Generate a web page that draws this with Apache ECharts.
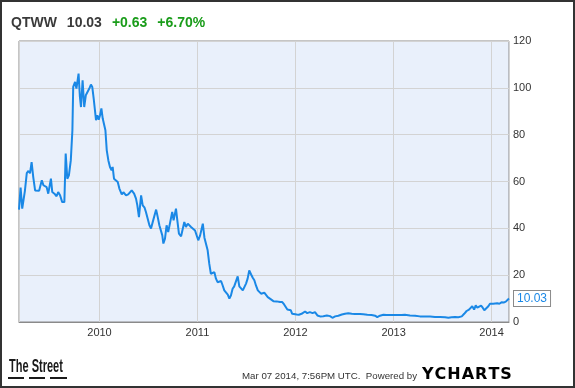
<!DOCTYPE html>
<html>
<head>
<meta charset="utf-8">
<script src="https://cdn.jsdelivr.net/npm/echarts@6/dist/echarts.min.js"></script>
<style>
html,body{margin:0;padding:0;background:#fff;}
#chart{width:575px;height:388px;}
</style>
</head>
<body>
<div id="chart"></div>
<script>
// Days since 2009-03-07 for each observation
const days = [0,6,12,22,29,35,41,47,53,60,66,75,85,91,97,103,109,119,124,132,140,146,153,161,169,174,180,186,193,199,
202,209,214,222,227,231,237,243,249,255,262,268,273,279,287,292,297,302,307,312,318,322,327,333,339,345,349,354,361,368,374,
383,389,399,407,420,429,436,441,447,455,461,468,473,480,486,492,500,511,517,523,529,534,538,544,550,556,563,571,576,585,590,596,604,610,616,622,629,635,641,647,
656,662,668,675,685,691,697,703,709,715,722,728,734,740,746,753,759,765,771,778,784,790,796,802,809,815,821,827,834,840,846,852,858,865,871,877,883,890,895,902,908,914,920,927,935,942,948,960,973,981,988,994,1000,1006,1013,1018,
1025,1035,1043,1053,1059,1066,1074,1084,1094,1103,1112,1122,1134,1147,1159,1168,1178,1190,1203,1215,1227,1240,1252,1271,1283,1298,1314,1327,1335,1345,1358,1370,1389,1407,1426,1438,1457,1476,1494,1513,1532,1550,1569,1588,1600,1612,1625,1637,1650,
1659,1668,1677,1683,1689,1696,1702,1708,1714,1722,1728,1734,1740,1749,1755,1761,1767,1774,1782,1790,1798,1806,1814,1821,1826];
const prices = [48,57.4,48.4,56,63.6,64.5,63.5,68.3,62,56.2,55.5,56,60.5,58.4,59,57.6,54.8,61.2,55.5,54.8,53.7,55.5,54.1,51.2,51.2,71.9,61.2,62.6,69,81.9,
100.4,102.5,99.7,106.1,96.1,91.8,103.2,91.8,96.8,97.6,99.7,101.4,100.4,94.7,86.2,88.3,86.4,88.3,91.2,86.9,87.6,81.9,73.3,69,66.2,64.8,66.2,61.2,62,59.8,57,
54.5,55.4,54.1,54.5,56.2,54.8,52.7,49.8,44.8,54.1,49.8,48.8,47,47,41.3,39.9,43.4,48,44.8,41.3,40.6,37,33.5,35.6,41.3,38.4,39.1,47,43.4,48.4,43.4,37.7,36.6,36.8,42.7,40.6,42,42.3,40.6,39.9,
39.1,39.1,34.9,37,42,36,35.6,30.6,24.9,20.6,19.9,21.3,18.5,17,17.8,17.5,15.6,13.5,13.2,11.7,10,11.4,14.2,15.2,15.2,19.5,15.2,14.7,13.5,13.2,16.4,18.5,22,20.3,18.9,17.8,15.6,13.5,13.2,12.1,12.8,12.5,11.8,10.6,10,9.2,8.9,8.8,8.5,8.5,7.5,6.4,5.3,5.9,5,3.5,
2.8,3.2,3.1,3.5,3.1,4.5,3.8,4.2,3.8,4.2,2.8,2.4,2.5,2.8,2.5,1.8,2.4,2.7,3.2,3.5,3.7,3.5,3.4,3.4,3.3,3.1,3.0,2.7,2.1,2.7,3.1,3.0,3.0,3.0,3.0,3.1,2.8,2.7,2.4,2.4,2.3,2.1,2.1,2.0,1.8,2.0,2.1,2.0,2.4,
3.5,4.7,5.3,6.1,6.7,5.3,7.1,6.1,6.7,7.0,6.1,5.0,4.2,6.7,7.8,7.6,7.8,8.1,8.0,7.8,8.4,8.3,8.7,9.2,10.03];
const yTicks = [0,20,40,60,80,100,120];
const ticker = 'QTWW', lastPrice = '10.03', change = '+0.63', changePct = '+6.70%';
const stamp = 'Mar 07 2014, 7:56PM UTC.  Powered by';
const brand = ['Y','C','H','A','R','T','S'];

const startMs = Date.UTC(2009, 2, 7);
const DAY = 86400000;
const seriesData = days.map((d, i) => [startMs + d * DAY, prices[i]]);

const chart = echarts.init(document.getElementById('chart'), null, {renderer: 'canvas'});
const font = '"Liberation Sans", Arial, sans-serif';
const brandRich = {};
brand.forEach((ch, i) => {
  brandRich['l' + i] = {fontFamily: '"DejaVu Sans", sans-serif', fontWeight: 'bold', fontSize: 16,
    color: i === 0 ? '#1b8fe8' : '#222', padding: [0, 1, 0, 0]};
});
const brandText = brand.map((ch, i) => `{l${i}|${ch}}`).join('');

chart.setOption({
  animation: false,
  backgroundColor: '#ffffff',
  textStyle: {fontFamily: font},
  title: {
    left: 11, top: 14, padding: 0,
    text: `{a|${ticker}}  {a|${lastPrice}}  {g|${change}}  {g|${changePct}}`,
    textStyle: {
      rich: {
        a: {fontFamily: font, fontWeight: 'bold', fontSize: 14, color: '#3a3a3a'},
        g: {fontFamily: font, fontWeight: 'bold', fontSize: 14, color: '#1a9c1a'}
      }
    }
  },
  grid: {
    left: 19, right: 66, top: 41, bottom: 66,
    show: true, backgroundColor: '#e9f0fb', borderColor: '#8a8a8a', borderWidth: 1
  },
  xAxis: {
    type: 'time',
    min: startMs, max: startMs + 1826 * DAY,
    splitNumber: 5,
    minInterval: 365 * DAY,
    axisLine: {show: true, lineStyle: {color: '#8a8a8a'}},
    axisTick: {show: false},
    axisLabel: {
      color: '#333', fontSize: 11, margin: 5, fontFamily: font,
      showMinLabel: false, showMaxLabel: false,
      formatter: v => String(new Date(v).getUTCFullYear())
    },
    splitLine: {show: true, lineStyle: {color: '#d3d3d3', width: 1}}
  },
  yAxis: {
    type: 'value', position: 'right',
    min: yTicks[0], max: yTicks[yTicks.length - 1], interval: 20,
    axisLine: {show: false}, axisTick: {show: false},
    axisLabel: {color: '#333', fontSize: 11, margin: 4, fontFamily: font},
    splitLine: {show: true, lineStyle: {color: '#d3d3d3', width: 1}}
  },
  series: [{
    type: 'line', data: seriesData, showSymbol: false, symbol: 'none',
    lineStyle: {color: '#1a88e6', width: 2},
    endLabel: {
      show: true, formatter: lastPrice, color: '#1a88e6', fontSize: 12, fontFamily: font,
      backgroundColor: '#fff', borderColor: '#8a8a8a', borderWidth: 1, padding: [2, 3, 1, 3], distance: 5
    }
  }],
  graphic: [
    {type: 'rect', silent: true, shape: {x: 1, y: 1, width: 573, height: 386}, style: {fill: 'none', stroke: '#333', lineWidth: 2}},
    {type: 'text', x: 9, y: 357, scaleX: 0.58, style: {text: 'The Street', font: 'bold 19px "Liberation Sans", Arial', fill: '#1a1a1a'}},
    {type: 'rect', shape: {x: 8, y: 377, width: 16, height: 2}, style: {fill: '#1a1a1a'}},
    {type: 'rect', shape: {x: 29, y: 377, width: 16, height: 2}, style: {fill: '#1a1a1a'}},
    {type: 'rect', shape: {x: 50, y: 377, width: 17, height: 2}, style: {fill: '#1a1a1a'}},
    {type: 'text', x: 417, y: 371, style: {text: stamp, align: 'right', font: '9.7px "Liberation Sans", Arial', fill: '#333'}},
    {type: 'text', left: 422, top: 367, style: {text: brandText, rich: brandRich}}
  ]
});
</script>
</body>
</html>
